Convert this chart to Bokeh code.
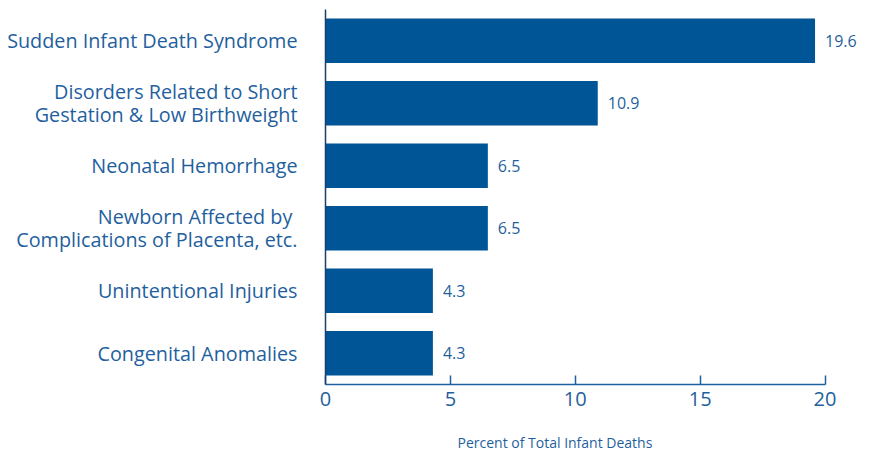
from bokeh.plotting import figure
from bokeh.models import ColumnDataSource, FactorRange, Range1d, LabelSet, FixedTicker, Title, LinearAxis
from bokeh.core.properties import value
from bokeh.embed import file_html
from bokeh.resources import INLINE

causes = [
    "Sudden Infant Death Syndrome",
    "Disorders Related to Short\nGestation & Low Birthweight",
    "Neonatal Hemorrhage",
    "Newborn Affected by \nComplications of Placenta, etc.",
    "Unintentional Injuries",
    "Congenital Anomalies",
]
percents = [19.6, 10.9, 6.5, 6.5, 4.3, 4.3]
value_labels = ["19.6", "10.9", "6.5", "6.5", "4.3", "4.3"]
x_ticks = [0, 5, 10, 15, 20]
x_title = "Percent of Total Infant Deaths"

BAR = "#005596"
TXT = "#1f5f9e"
FONT = "Open Sans"

src = ColumnDataSource(dict(cause=causes, pct=percents, lab=value_labels))

p = figure(
    width=864, height=456,
    y_range=FactorRange(factors=list(reversed(causes)), range_padding=0),
    x_range=Range1d(0, 21.5),
    output_backend="svg", toolbar_location=None,
    min_border_left=325, min_border_right=2, min_border_top=9, min_border_bottom=20,
)
p.hbar(y="cause", right="pct", left=0, height=0.71, source=src, color=BAR, line_color=None)

labels = LabelSet(x="pct", y="cause", text="lab", source=src, x_offset=10,
                  text_baseline="middle", text_font=value(FONT), text_font_size="16px",
                  text_color=TXT)
p.add_layout(labels)

p.grid.visible = False
p.outline_line_color = None
p.background_fill_color = "white"
p.border_fill_color = "white"

xa = p.xaxis[0]
xa.ticker = FixedTicker(ticks=x_ticks)
xa.bounds = (0, 20)
xa.major_tick_in = 9
xa.major_tick_out = 0
xa.minor_tick_line_color = None
xa.axis_line_color = TXT
xa.major_tick_line_color = TXT
xa.axis_line_width = 1.5
xa.major_tick_line_width = 1.5
xa.major_label_text_font = FONT
xa.major_label_text_font_size = "20px"
xa.major_label_text_color = TXT
xa.major_label_standoff = 7

# blank axis used only as vertical spacing between tick labels and the title
spacer = LinearAxis(ticker=FixedTicker(ticks=[0]), major_label_overrides={0: ""},
                    axis_line_color=None,
                    major_tick_in=0, major_tick_out=18, minor_tick_out=0, minor_tick_in=0,
                    major_tick_line_color=None, minor_tick_line_color=None,
                    major_label_standoff=0, major_label_text_font_size="1px")
p.add_layout(spacer, "below")

t = Title(text=x_title, align="left", offset=132, text_font=FONT,
          text_font_size="14px", text_font_style="normal", text_color=TXT,
          standoff=9)
p.add_layout(t, "below")

ya = p.yaxis[0]
ya.major_tick_line_color = None
ya.minor_tick_line_color = None
ya.axis_line_color = "#1c3f72"
ya.axis_line_width = 1.5
ya.major_label_text_font = FONT
ya.major_label_text_font_size = "19.8px"
ya.major_label_text_line_height = 0.85
ya.major_label_text_color = TXT
ya.major_label_standoff = 22

open("out.html", "w").write(file_html(p, INLINE))
